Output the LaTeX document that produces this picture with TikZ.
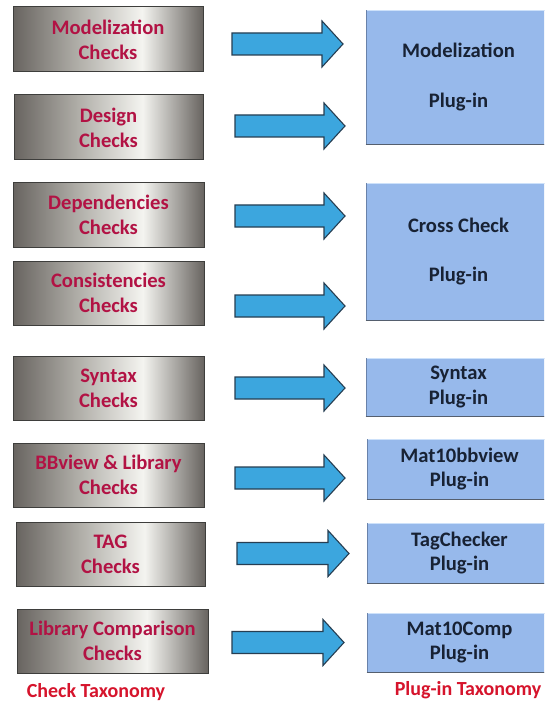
\documentclass[tikz,border=0pt]{standalone}
\usepackage{fontspec}
\setmainfont{Carlito}

\definecolor{checkred}{RGB}{178,18,68}
\definecolor{taxred}{RGB}{214,20,44}
\definecolor{plugtext}{RGB}{24,34,52}
\definecolor{plugblue}{RGB}{151,185,235}
\definecolor{plugedge}{RGB}{105,130,170}
\definecolor{plugtop}{RGB}{205,225,250}
\definecolor{plugshadow}{RGB}{85,95,110}
\definecolor{arrowblue}{RGB}{60,166,222}
\definecolor{arrowedge}{RGB}{38,62,82}
\definecolor{chromedark}{RGB}{104,100,96}
\definecolor{chromemid}{RGB}{176,174,168}
\definecolor{chromelight}{RGB}{244,244,240}
\definecolor{chromeedge}{RGB}{62,62,60}

% brushed-metal look of the check boxes: dark sides, bright band right of centre
\pgfdeclarehorizontalshading{chrome}{100bp}{%
  color(0bp)=(chromedark); color(25bp)=(chromedark);
  color(42bp)=(chromemid); color(59bp)=(chromelight);
  color(75bp)=(chromedark); color(100bp)=(chromedark)}

\tikzset{
  checkbox/.style={draw=chromeedge, line width=1pt, shading=chrome,
    minimum width=190, minimum height=64, inner sep=0pt, align=center,
    text=checkred, font=\bfseries\fontsize{20.6}{25}\selectfont},
  plugbox/.style={draw=plugedge, line width=0.8pt, fill=plugblue,
    inner sep=0pt, align=center, text=plugtext,
    font=\bfseries\fontsize{20.6}{24.5}\selectfont},
  taxlabel/.style={text=taxred, inner sep=0pt,
    font=\bfseries\fontsize{20}{24}\selectfont},
  blockarrow/.style={fill=arrowblue, draw=arrowedge, line width=1.1pt,
    line join=miter}
}

% thick block arrow: tail x, tip x, centre y
\newcommand\blockarrow[3]{%
  \filldraw[blockarrow] (#1,#3-11) -- (#2-21,#3-11) -- (#2-21,#3-23)
    -- (#2,#3) -- (#2-21,#3+23) -- (#2-21,#3+11) -- (#1,#3+11) -- cycle;}

% plug-in box with a light top rim and a dark lower edge
\newcommand\plugframe[1]{%
  \draw[plugtop, line width=1.2pt]
    ([xshift=1pt,yshift=-1.2pt]#1.north west) -- ([xshift=-1pt,yshift=-1.2pt]#1.north east);
  \draw[plugshadow, line width=1.6pt]
    (#1.south west) -- (#1.south east);}

\begin{document}
\begin{tikzpicture}[x=1pt,y=-1pt]
\useasboundingbox (0,0) rectangle (544,711);
\fill[white] (0,0) rectangle (544,711);

% check taxonomy column
\node[checkbox, minimum width=190, minimum height=65] (mod)  at (108,39.5)  {Modelization\\Checks};
\node[checkbox, minimum width=189, minimum height=65] (des)  at (108.5,127.5) {Design\\Checks};
\node[checkbox, minimum width=191, minimum height=64] (dep)  at (108.5,215) {Dependencies\\Checks};
\node[checkbox, minimum width=191, minimum height=64] (cons) at (108.5,293) {Consistencies\\Checks};
\node[checkbox, minimum width=191, minimum height=64] (syn)  at (108.5,388) {Syntax\\Checks};
\node[checkbox, minimum width=191, minimum height=64] (bbv)  at (108.5,475) {BBview \& Library\\Checks};
\node[checkbox, minimum width=189, minimum height=64] (tag)  at (110.5,554) {TAG\\Checks};
\node[checkbox, minimum width=191, minimum height=64] (lib)  at (112.5,641) {Library Comparison\\Checks};

\node[taxlabel] (chktax) at (96,692) {Check Taxonomy};

% plug-in taxonomy column (runs past the right edge)
\begin{scope}
\clip (0,0) rectangle (544,711);
\node[plugbox, minimum width=185, minimum height=134] (pmod) at (458.5,77)
  {Modelization\\[25pt]Plug-in};
\node[plugbox, minimum width=185, minimum height=137] (pcross) at (458.5,251.5)
  {Cross Check\\[25pt]Plug-in};
\node[plugbox, minimum width=185, minimum height=58] (psyn) at (458.5,387)
  {Syntax\\Plug-in};
\node[plugbox, minimum width=185, minimum height=60] (pbbv) at (459.5,469)
  {Mat10bbview\\Plug-in};
\node[plugbox, minimum width=185, minimum height=60] (ptag) at (459.5,553)
  {TagChecker\\Plug-in};
\node[plugbox, minimum width=185, minimum height=59] (pcomp) at (459.5,642.5)
  {Mat10Comp\\Plug-in};
\plugframe{pmod}
\plugframe{pcross}
\plugframe{psyn}
\plugframe{pbbv}
\plugframe{ptag}
\plugframe{pcomp}
\end{scope}

\node[taxlabel] (plugtax) at (468,690) {Plug-in Taxonomy};

% block arrows from each check to its plug-in
\blockarrow{232}{343}{44}
\blockarrow{235}{345}{126}
\blockarrow{235}{345}{216}
\blockarrow{235}{345}{306}
\blockarrow{235}{345}{388}
\blockarrow{235}{345}{478}
\blockarrow{237}{349}{553.5}
\blockarrow{232}{344}{642.5}

\end{tikzpicture}
\end{document}
